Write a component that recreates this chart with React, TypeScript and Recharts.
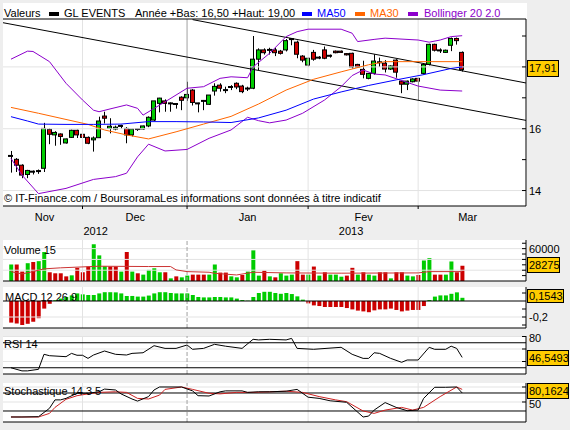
import React from 'react';
import { ComposedChart, Bar, Line, XAxis, YAxis, ReferenceLine, Cell } from 'recharts';

// daily candles, GL EVENTS, Nov 2012 -> Mar 2013
const opens = [15.12, 15.01, 14.82, 14.52, 14.61, 14.63, 14.72, 15.98, 15.80, 15.83,
  15.54, 15.72, 15.95, 15.82, 15.72, 15.64, 15.71, 16.41, 16.01, 15.99,
  16.09, 16.01, 15.80, 15.99, 15.99, 16.09, 16.28, 16.82, 16.90, 16.82,
  16.80, 17.02, 17.00, 17.25, 16.82, 16.90, 16.79, 17.22, 17.41, 17.25,
  17.35, 17.47, 17.38, 17.30, 17.31, 18.25, 18.55, 18.55, 18.55, 18.51,
  18.55, 18.90, 18.80, 18.35, 18.06, 18.47, 18.30, 18.55, 18.36, 18.51,
  18.51, 18.43, 18.44, 18.08, 17.92, 17.63, 17.79, 18.15, 18.12, 17.93,
  18.22, 17.54, 17.44, 17.52, 17.63, 17.79, 18.08, 18.73, 18.55, 18.47,
  18.70, 18.92, 18.47];
const highs = [15.28, 15.05, 14.85, 14.67, 14.65, 14.68, 16.19, 16.02, 15.92, 15.85,
  15.68, 15.97, 15.97, 15.85, 15.75, 15.75, 16.39, 16.55, 16.34, 16.10,
  16.13, 16.05, 16.00, 16.00, 16.10, 16.40, 16.90, 17.00, 16.95, 16.85,
  16.82, 17.05, 17.52, 17.28, 16.84, 16.93, 17.09, 17.47, 17.47, 17.36,
  17.41, 17.50, 17.42, 17.36, 19.00, 18.60, 18.60, 18.62, 18.62, 18.55,
  18.90, 18.92, 18.85, 18.38, 18.30, 18.55, 18.35, 18.66, 18.40, 18.53,
  18.53, 18.45, 18.46, 18.10, 18.20, 17.80, 18.41, 18.30, 18.22, 18.05,
  18.25, 17.56, 17.56, 17.63, 17.65, 18.10, 18.75, 18.75, 18.60, 18.56,
  18.95, 18.95, 18.50];
const lows = [14.58, 14.60, 14.40, 14.40, 14.52, 14.54, 14.60, 15.50, 15.45, 15.48,
  15.52, 15.70, 15.70, 15.60, 15.50, 15.26, 15.70, 16.17, 15.85, 15.95,
  16.00, 15.53, 15.75, 15.93, 15.97, 16.05, 16.25, 16.53, 16.55, 16.55,
  16.65, 16.60, 16.90, 16.75, 16.53, 16.60, 16.77, 17.07, 17.20, 17.15,
  17.25, 17.28, 17.15, 17.22, 17.28, 17.90, 18.40, 18.40, 18.35, 18.40,
  18.50, 18.70, 18.28, 18.15, 18.00, 18.20, 18.25, 18.25, 18.30, 18.44,
  18.45, 18.37, 17.95, 17.98, 17.63, 17.60, 17.75, 18.00, 17.82, 17.90,
  17.65, 17.15, 17.25, 17.50, 16.93, 17.75, 18.05, 18.50, 18.45, 18.45,
  18.51, 18.72, 17.85];
const closes = [15.12, 14.82, 14.50, 14.65, 14.61, 14.63, 16.01, 15.82, 15.88, 15.75,
  15.67, 15.95, 15.80, 15.72, 15.53, 15.70, 16.25, 16.34, 16.08, 16.05,
  16.09, 15.80, 15.99, 15.99, 16.09, 16.37, 16.90, 16.99, 16.82, 16.82,
  16.80, 16.92, 17.11, 16.85, 16.82, 16.90, 17.09, 17.37, 17.31, 17.25,
  17.35, 17.35, 17.20, 17.30, 18.25, 18.55, 18.46, 18.55, 18.46, 18.44,
  18.85, 18.90, 18.41, 18.22, 18.28, 18.25, 18.30, 18.28, 18.36, 18.46,
  18.47, 18.39, 18.00, 18.00, 17.76, 17.79, 18.19, 18.15, 17.93, 18.03,
  17.83, 17.44, 17.54, 17.61, 17.54, 18.08, 18.73, 18.54, 18.52, 18.54,
  18.92, 18.85, 17.91];

const volumes = [30600, 30600, 17400, 33000, 35000, 36800, 53700, 16200, 14300, 14300,
  8600, 10500, 24400, 16200, 26800, 68100, 47500, 27400, 26800, 26800,
  17400, 53700, 17400, 14300, 11800, 20600, 23600, 16200, 16200, 4900,
  8600, 6800, 10000, 11800, 11800, 11800, 11800, 30600, 15600, 15600,
  8600, 6800, 11200, 17400, 56800, 10000, 19300, 8600, 6800, 14300,
  10000, 11800, 36800, 11800, 11800, 26800, 10000, 16200, 11800, 11800,
  8000, 10000, 24400, 11800, 16200, 11800, 10000, 16200, 16200, 4900,
  16200, 16200, 10000, 8600, 11200, 38000, 42400, 11800, 11800, 11800,
  36200, 16200, 28275];
const volUp = [1, 0, 0, 1, 0, 1, 1, 0, 0, 0,
  0, 1, 0, 0, 0, 1, 1, 1, 0, 0,
  1, 0, 1, 0, 1, 1, 1, 1, 0, 1,
  0, 1, 1, 0, 0, 0, 1, 1, 0, 0,
  1, 1, 0, 1, 1, 1, 0, 1, 0, 1,
  1, 1, 0, 0, 1, 0, 1, 0, 1, 1,
  1, 0, 0, 1, 0, 1, 1, 0, 0, 1,
  0, 0, 1, 1, 0, 1, 1, 0, 0, 1,
  1, 0, 0];
const macdHist = [-0.27, -0.28, -0.30, -0.285, -0.26, -0.215, -0.095, -0.035, 0.01, 0.03,
  0.05, 0.07, 0.095, 0.083, 0.075, 0.075, 0.095, 0.11, 0.11, 0.108,
  0.095, 0.063, 0.063, 0.055, 0.055, 0.068, 0.095, 0.11, 0.11, 0.1,
  0.095, 0.095, 0.095, 0.075, 0.05, 0.045, 0.045, 0.05, 0.05, 0.045,
  0.045, 0.03, 0.012, 0.004, 0.05, 0.1, 0.115, 0.115, 0.1, 0.09,
  0.1, 0.087, 0.058, 0.017, -0.03, -0.055, -0.063, -0.075, -0.075, -0.075,
  -0.075, -0.088, -0.105, -0.12, -0.13, -0.14, -0.117, -0.105, -0.105, -0.095,
  -0.112, -0.13, -0.12, -0.112, -0.112, -0.063, 0.012, 0.055, 0.07, 0.07,
  0.09, 0.108, 0.04];

// indicator readings as [day, value]
const ma50Pts = [[0, 16.39], [3, 16.25], [5, 16.15], [10, 16.14], [15, 16.14], [20, 16.15], [25, 16.23],
  [30, 16.23], [35, 16.22], [40, 16.2], [45, 16.35], [50, 16.6], [55, 16.96], [60, 17.19], [65, 17.4],
  [70, 17.58], [75, 17.75], [80, 17.95], [82, 18.0]];
const ma30Pts = [[0, 16.69], [5, 16.5], [10, 16.3], [14, 16.14], [17, 15.96], [21, 15.8], [25, 15.67],
  [30, 15.9], [35, 16.15], [40, 16.4], [45, 16.8], [50, 17.25], [55, 17.6], [60, 17.84], [65, 18.07],
  [68, 18.17], [82, 18.17]];
const bbUpPts = [[0, 18.25], [3, 18.51], [4, 18.5], [7, 18.17], [10, 17.47], [13, 16.93], [15, 16.6],
  [16, 16.55], [18, 16.64], [21, 16.77], [23, 16.66], [24, 16.44], [28, 16.87], [32, 17.31], [35, 17.36],
  [38, 17.63], [40, 17.68], [43, 17.65], [44, 18.0], [47, 18.44], [50, 18.98], [52, 19.14], [54, 19.22],
  [60, 19.22], [62, 19.09], [63, 18.82], [66, 18.89], [68, 18.93], [74, 18.87], [76, 18.8], [78, 18.87],
  [80, 18.98], [82, 19.01]];
const bbLowPts = [[0, 15.04], [2, 14.5], [5, 13.9], [10, 14.07], [15, 14.36], [19, 14.45], [21, 14.56],
  [23, 15.09], [25, 15.5], [28, 15.28], [32, 15.33], [36, 15.69], [40, 15.96], [43, 16.37], [45, 16.26],
  [47, 16.19], [50, 16.28], [53, 16.5], [57, 16.93], [60, 17.36], [62, 17.72], [64, 17.9], [66, 17.77],
  [68, 17.74], [74, 17.38], [78, 17.25], [82, 17.22]];
const volMaPts = [[0, 17400], [2, 13100], [4, 17400], [6, 22500], [9, 24400], [16, 27400], [25, 26800],
  [29, 26800], [30, 20600], [32, 17400], [36, 16200], [37, 14300], [41, 11200], [44, 16200], [50, 15000],
  [60, 14500], [74, 15000], [76, 17400], [82, 17400]];
const rsiPts = [[0, 30], [2, 25], [3, 25], [5, 27.5], [6, 51.5], [7, 49.3], [10, 47.7], [11, 53], [12, 50],
  [13, 50], [14, 45], [15, 50.4], [17, 56.8], [19, 51.5], [21, 50.4], [22, 53], [24, 54], [26, 65.3],
  [28, 61], [30, 61], [32, 66.4], [33, 59.5], [35, 61], [37, 67.5], [39, 64.5], [42, 61], [44, 75.5],
  [45, 74.5], [47, 75.5], [50, 74.5], [51, 77], [52, 61], [55, 59.5], [60, 62.7], [62, 51.5], [64, 45],
  [65, 45], [66, 54], [67, 53], [69, 45], [71, 38.7], [72, 42.4], [74, 42.4], [76, 62.7], [77, 59.5],
  [79, 59.5], [80, 64.5], [81, 61], [82, 46.55]];
const stochKPts = [[0, 0], [2, 0], [5, 1], [7, 29], [8, 57], [9, 57], [10, 62], [12, 79], [14, 79], [16, 84],
  [17, 93], [19, 90], [20, 77], [22, 60], [23, 53], [25, 68], [26, 90], [27, 100], [31, 100], [33, 87],
  [34, 71], [36, 70], [38, 84], [39, 87], [42, 87], [43, 82], [45, 84], [47, 84], [50, 86], [52, 92],
  [54, 66], [56, 62], [58, 54], [61, 49], [64, 0], [65, 3], [66, 23], [68, 48], [70, 32], [72, 21],
  [74, 23], [75, 62], [77, 99], [79, 99], [81, 100], [82, 80.16]];
const stochDPts = [[0, 0], [5, 0], [7, 12], [8, 32], [10, 59], [12, 71], [14, 77], [16, 82], [19, 84],
  [21, 82], [23, 62], [25, 60], [27, 73], [28, 92], [31, 100], [33, 92], [36, 79], [38, 77], [41, 82],
  [44, 82], [50, 86], [53, 82], [56, 68], [59, 57], [61, 51], [64, 20], [66, 12], [68, 23], [71, 32],
  [73, 23], [75, 32], [78, 68], [81, 100], [82, 92]];

// two parallel trend lines [day, price]
const trendTop = [[33, 19.53], [93.6, 17.48]];
const trendMid = [[-1.45, 19.43], [93.6, 16.27]];

const monthLines = [13, 32, 54, 74];
const monthLabels: Record<string, string> = { '6.1': 'Nov', '22.6': 'Dec', '43': 'Jan', '64.1': 'Fev', '83': 'Mar' };
const yearLabels: Record<string, string> = { '15.4': '2012', '61.8': '2013' };

const FONT = '"Liberation Sans", Arial, sans-serif';
const GREEN = '#00CC00';
const RED = '#CC0000';
const GRID = '#E3E3E3';
const BG = '#EEEEEE';
const PURPLE = '#8C00CC';
const X_DOMAIN: [number, number] = [-1.45, 93.6];

const toMap = (pts: number[][]) => new Map(pts.map(([i, v]) => [i, v]));
const ma50M = toMap(ma50Pts), ma30M = toMap(ma30Pts), upM = toMap(bbUpPts), lowM = toMap(bbLowPts);
const vmaM = toMap(volMaPts), rsiM = toMap(rsiPts), kM = toMap(stochKPts), dM = toMap(stochDPts);

const rows = opens.map((o, i) => ({
  i, o, h: highs[i], l: lows[i], c: closes[i],
  vol: volumes[i], macd: macdHist[i],
  ma50: ma50M.get(i) ?? null, ma30: ma30M.get(i) ?? null,
  up: upM.get(i) ?? null, low: lowM.get(i) ?? null,
  vma: vmaM.get(i) ?? null, rsi: rsiM.get(i) ?? null,
  k: kM.get(i) ?? null, d: dM.get(i) ?? null,
}));

const Candle = (p: any) => {
  const { x, y, width, height, payload } = p;
  if (x == null || !payload) return null;
  const top = Math.min(y, y + height);
  const hh = Math.abs(height);
  const { o, h, l, c } = payload;
  const k = hh / (h - l);
  const yOf = (v: number) => top + (h - v) * k;
  const cx = Math.round(x + width / 2) + 0.5;
  const bx = Math.round(x) + 0.5;
  const bTop = yOf(Math.max(o, c));
  const bBot = yOf(Math.min(o, c));
  const doji = Math.abs(c - o) < 0.005;
  return (
    <g>
      <line x1={cx} x2={cx} y1={top} y2={top + hh} stroke="#000" />
      {doji ? (
        <line x1={bx - 0.5} x2={bx + 4.5} y1={bTop} y2={bTop} stroke="#000" strokeWidth={2} />
      ) : (
        <rect x={bx} y={bTop} width={4} height={Math.max(1, bBot - bTop)} fill={c > o ? GREEN : RED} stroke="#000" />
      )}
    </g>
  );
};

const rightTick = (labels: Record<string, string>, dy = 4) => (p: any) => {
  const { x, y, payload } = p;
  const lab = labels[String(payload.value)];
  return (
    <g>
      <line x1={x - 6} x2={x - 2} y1={y} y2={y} stroke="#000" />
      {lab && (
        <text x={x + 1} y={y} dy={dy} fontSize={11} fontFamily={FONT} fill="#000">{lab}</text>
      )}
    </g>
  );
};

const BottomTick = (p: any) => {
  const { x, y, payload } = p;
  const v = payload.value;
  if (monthLines.includes(v)) return <line x1={x} x2={x} y1={y} y2={y + 3} stroke="#000" />;
  const m = monthLabels[String(v)];
  if (m) return <text x={x} y={y + 15} textAnchor="middle" fontSize={11} fontFamily={FONT} fill="#000">{m}</text>;
  const yr = yearLabels[String(v)];
  if (yr) return <text x={x} y={y + 29} textAnchor="middle" fontSize={11} fontFamily={FONT} fill="#000">{yr}</text>;
  return null;
};

const verticals = (dashed: boolean) =>
  monthLines.map((m) => (
    <ReferenceLine key={'v' + m} x={m} stroke={m === 32 ? '#A0A0A0' : GRID}
      strokeDasharray={m === 32 && dashed ? '4 2' : undefined} />
  ));

const label = (text: string, left: number, top: number, color = '#000') => (
  <div style={{ position: 'absolute', left, top, fontSize: 11, lineHeight: '13px', color, whiteSpace: 'nowrap' }}>{text}</div>
);

const valueBox = (text: string, top: number, width: number, height: number) => (
  <div style={{
    position: 'absolute', left: 527, top, width, height, boxSizing: 'border-box', border: '1px solid #000',
    background: '#FFCC00', fontSize: 11, lineHeight: `${height - 2}px`, paddingLeft: 1, whiteSpace: 'nowrap',
  }}>{text}</div>
);

const swatch = (left: number, color: string) => (
  <div style={{ position: 'absolute', left, top: 12, width: 10, height: 4, background: color }} />
);

const panelBg = (top: number, height: number) => (
  <div style={{ position: 'absolute', left: 3, top, width: 523, height, background: '#fff' }} />
);

const subAxis = (domain: [number, number], ticks: number[], labels: Record<string, string>, dy = 4) => (
  <YAxis orientation="right" width={44} domain={domain} ticks={ticks} interval={0} allowDataOverflow
    tick={rightTick(labels, dy)} tickLine={false} tickSize={0} tickMargin={2} axisLine={{ stroke: '#000' }} />
);

// sub panels: svg starts 6px above the white panel so top labels are not cut
const PAD = 6;
const subMargin = { top: PAD, right: 0, bottom: PAD, left: 3 };

export default function App() {
  return (
    <div style={{ position: 'absolute', left: 0, top: 0, width: 570, height: 430, background: BG, overflow: 'hidden', fontFamily: FONT }}>
      <div style={{ position: 'absolute', left: 3, top: 3, width: 524, height: 203, background: '#fff' }} />
      {panelBg(240, 41)}
      {panelBg(287, 41)}
      {panelBg(336, 38)}
      {panelBg(383, 39)}

      {/* price panel */}
      <div style={{ position: 'absolute', left: 0, top: 0 }}>
        <ComposedChart width={570} height={240} data={rows} margin={{ top: 19, right: 0, bottom: 0, left: 3 }}>
          <XAxis dataKey="i" type="number" domain={X_DOMAIN} allowDataOverflow height={34}
            ticks={[6.1, 13, 15.4, 22.6, 32, 43, 54, 61.8, 64.1, 74, 83]} interval={0}
            tick={BottomTick} tickLine={false} tickSize={0} tickMargin={0} axisLine={{ stroke: '#000' }} />
          <YAxis orientation="right" width={44} domain={[13.5, 19.55]} ticks={[14, 15, 16, 17, 18, 19]} interval={0}
            allowDataOverflow tick={rightTick({ '14': '14', '16': '16' })} tickLine={false}
            tickSize={0} tickMargin={2} axisLine={{ stroke: '#000' }} />
          {[14, 16, 18].map((v) => <ReferenceLine key={'h' + v} y={v} stroke={GRID} />)}
          {verticals(false)}
          <ReferenceLine y={19.55} stroke="#000" />
          <Bar dataKey={(d: any) => [d.l, d.h]} barSize={5} shape={Candle} isAnimationActive={false} />
          <ReferenceLine segment={[{ x: trendTop[0][0], y: trendTop[0][1] }, { x: trendTop[1][0], y: trendTop[1][1] }]}
            stroke="#000" ifOverflow="visible" />
          <ReferenceLine segment={[{ x: trendMid[0][0], y: trendMid[0][1] }, { x: trendMid[1][0], y: trendMid[1][1] }]}
            stroke="#000" ifOverflow="visible" />
          <Line dataKey="up" stroke={PURPLE} dot={false} connectNulls isAnimationActive={false} strokeWidth={1} />
          <Line dataKey="low" stroke={PURPLE} dot={false} connectNulls isAnimationActive={false} strokeWidth={1} />
          <Line dataKey="ma30" stroke="#FF6600" dot={false} connectNulls isAnimationActive={false} strokeWidth={1} />
          <Line dataKey="ma50" stroke="#0000FF" dot={false} connectNulls isAnimationActive={false} strokeWidth={1} />
        </ComposedChart>
      </div>

      {/* volume */}
      <div style={{ position: 'absolute', left: 0, top: 240 - PAD }}>
        <ComposedChart width={570} height={41 + 2 * PAD} data={rows} margin={subMargin}>
          <XAxis dataKey="i" type="number" domain={X_DOMAIN} allowDataOverflow hide />
          {subAxis([0, 76000], [10000, 20000, 30000, 40000, 50000, 60000, 70000], { '60000': '60000' })}
          {[20000, 40000, 60000].map((v) => <ReferenceLine key={'h' + v} y={v} stroke={GRID} />)}
          {verticals(true)}
          <Bar dataKey="vol" barSize={4} isAnimationActive={false}>
            {rows.map((r) => <Cell key={r.i} fill={volUp[r.i] ? GREEN : RED} />)}
          </Bar>
          <Line dataKey="vma" stroke="#CC3333" dot={false} connectNulls isAnimationActive={false} strokeWidth={1} />
          <ReferenceLine y={0} stroke="#000" />
        </ComposedChart>
      </div>

      {/* macd */}
      <div style={{ position: 'absolute', left: 0, top: 287 - PAD }}>
        <ComposedChart width={570} height={41 + 2 * PAD} data={rows} margin={subMargin}>
          <XAxis dataKey="i" type="number" domain={X_DOMAIN} allowDataOverflow hide />
          {subAxis([-0.3375, 0.175], [0.1, -0.1, -0.2, -0.3], { '-0.2': '-0,2' })}
          <ReferenceLine y={-0.2} stroke={GRID} />
          {verticals(true)}
          <Bar dataKey="macd" barSize={4} isAnimationActive={false}>
            {rows.map((r) => <Cell key={r.i} fill={r.macd >= 0 ? GREEN : RED} />)}
          </Bar>
          <ReferenceLine y={0} stroke="#000" />
          <ReferenceLine y={-0.3375} stroke="#000" />
        </ComposedChart>
      </div>

      {/* rsi */}
      <div style={{ position: 'absolute', left: 0, top: 336 - PAD }}>
        <ComposedChart width={570} height={38 + 2 * PAD} data={rows} margin={subMargin}>
          <XAxis dataKey="i" type="number" domain={X_DOMAIN} allowDataOverflow hide />
          {subAxis([20, 80.8], [80, 60, 40], { '80': '80' }, 5.5)}
          {[80, 60, 40].map((v) => <ReferenceLine key={'h' + v} y={v} stroke={GRID} />)}
          {verticals(true)}
          <ReferenceLine y={70} stroke="#000" />
          <ReferenceLine y={30} stroke="#000" />
          <Line dataKey="rsi" stroke="#000" dot={false} connectNulls isAnimationActive={false} strokeWidth={1} />
          <ReferenceLine y={20} stroke="#000" />
        </ComposedChart>
      </div>

      {/* stochastic */}
      <div style={{ position: 'absolute', left: 0, top: 383 - PAD }}>
        <ComposedChart width={570} height={39 + 2 * PAD} data={rows} margin={subMargin}>
          <XAxis dataKey="i" type="number" domain={X_DOMAIN} allowDataOverflow hide />
          {subAxis([-16.7, 113.3], [100, 50], { '50': '50' }, 6.5)}
          {[100, 50].map((v) => <ReferenceLine key={'h' + v} y={v} stroke={GRID} />)}
          {verticals(true)}
          <ReferenceLine y={80} stroke="#000" />
          <ReferenceLine y={20} stroke="#000" />
          <Line dataKey="d" stroke="#CC2222" dot={false} connectNulls isAnimationActive={false} strokeWidth={1} />
          <Line dataKey="k" stroke="#000" dot={false} connectNulls isAnimationActive={false} strokeWidth={1} />
          <ReferenceLine y={-16.7} stroke="#000" />
        </ComposedChart>
      </div>

      {/* header legend */}
      {label('Valeurs', 4, 7)}
      {swatch(49, '#000')}
      {label('GL EVENTS', 64, 7)}
      {label('Année +Bas: 16,50 +Haut: 19,00', 135, 7)}
      {swatch(302, '#0000FF')}
      {label('MA50', 317, 7, '#0000FF')}
      {swatch(355, '#FF6600')}
      {label('MA30', 370, 7, '#FF6600')}
      {swatch(408, PURPLE)}
      {label('Bollinger 20 2.0', 424, 7, PURPLE)}
      {label('© IT-Finance.com / BoursoramaLes informations sont données à titre indicatif', 4, 192)}

      {label('Volume 15', 4, 244)}
      {label('MACD 12 26 9', 5, 291)}
      {label('RSI 14', 4, 338)}
      {label('Stochastique 14 3 5', 4, 385)}

      {valueBox('17,91', 60, 32, 17)}
      {valueBox('28275', 257, 33, 16)}
      {valueBox('0,1543', 289, 37, 14)}
      {valueBox('46,5493', 350, 42, 16)}
      {valueBox('80,1624', 383, 42, 16)}
    </div>
  );
}
